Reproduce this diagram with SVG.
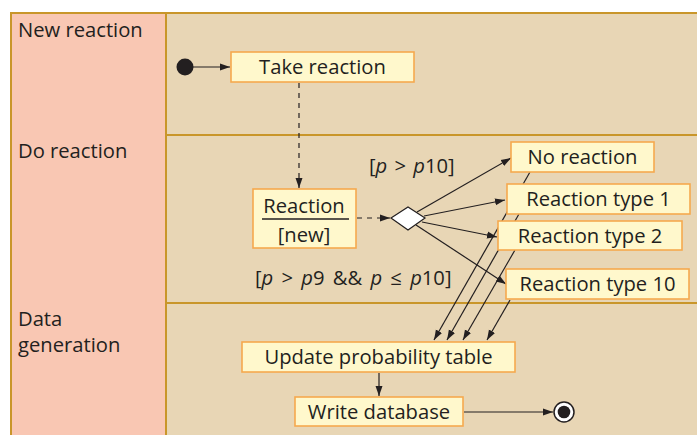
<svg xmlns="http://www.w3.org/2000/svg" width="697" height="435" viewBox="0 0 697 435">
<defs>
<style>
.lanehead{fill:#F9C7B3;}
.lanebody{fill:#E8D6B5;}
.frame{stroke:#C9962A;stroke-width:2;fill:none;}
.box{fill:#FFF8CC;stroke:#F6A94E;stroke-width:1.6;}
.t{font-family:"Open Sans","Noto Sans",sans-serif;font-size:20.2px;fill:#231F20;}
.lbl{font-family:"Open Sans","Noto Sans",sans-serif;font-size:20.2px;fill:#231F20;}
.c{stroke:#231F20;stroke-width:1.2;fill:none;}
.d{stroke:#231F20;stroke-width:1.2;fill:none;stroke-dasharray:5,5;}
</style>
<marker id="ah" viewBox="0 0 10 10" refX="10" refY="5" markerWidth="10" markerHeight="10" markerUnits="userSpaceOnUse" orient="auto">
<path d="M0,1.5 L10,5 L0,8.5 z" fill="#231F20"/>
</marker>
</defs>

<g id="lanes">
<rect class="lanehead" x="11" y="13" width="155" height="422"/>
<rect class="lanebody" x="166" y="13" width="531" height="422"/>
<path class="frame" d="M11,435 V13 H697 M166,13 V435 M166,135 H697 M166,303 H697"/>
<text class="lbl" x="18" y="37">New reaction</text>
<text class="lbl" x="18" y="158">Do reaction</text>
<text class="lbl" x="18" y="326">Data</text>
<text class="lbl" x="18" y="352">generation</text>
</g>

<g id="connectors">
<line class="c" x1="193" y1="67" x2="230" y2="67" marker-end="url(#ah)"/>
<line class="d" x1="299" y1="83" x2="299" y2="188" marker-end="url(#ah)"/>
<line class="d" x1="357" y1="218" x2="390" y2="218" marker-end="url(#ah)"/>
<line class="c" x1="417" y1="212" x2="511" y2="158" marker-end="url(#ah)"/>
<line class="c" x1="424" y1="216" x2="505" y2="200" marker-end="url(#ah)"/>
<line class="c" x1="422" y1="222" x2="497" y2="237" marker-end="url(#ah)"/>
<line class="c" x1="416" y1="225" x2="506" y2="284" marker-end="url(#ah)"/>
<line class="c" x1="530" y1="172" x2="434" y2="340" marker-end="url(#ah)"/>
<line class="c" x1="519" y1="214" x2="447" y2="340" marker-end="url(#ah)"/>
<line class="c" x1="515" y1="250" x2="463" y2="340" marker-end="url(#ah)"/>
<line class="c" x1="510" y1="300" x2="487" y2="340" marker-end="url(#ah)"/>
<line class="c" x1="379" y1="373" x2="379" y2="396" marker-end="url(#ah)"/>
<line class="c" x1="464" y1="412" x2="553" y2="412" marker-end="url(#ah)"/>
<text class="t" x="369" y="173" word-spacing="2">[<tspan font-style="italic">p</tspan> &gt; <tspan font-style="italic">p</tspan>10]</text>
<text class="t" x="255" y="285" word-spacing="3">[<tspan font-style="italic">p</tspan> &gt; <tspan font-style="italic">p</tspan>9 &amp;&amp; <tspan font-style="italic">p</tspan> ≤ <tspan font-style="italic">p</tspan>10]</text>
</g>

<g id="start">
<circle cx="185" cy="67" r="8.5" fill="#231F20"/>
</g>

<g id="take-reaction">
<rect class="box" x="231" y="52" width="183" height="30"/>
<text class="t" x="322.5" y="74" text-anchor="middle">Take reaction</text>
</g>

<g id="reaction-new">
<rect class="box" x="253" y="189" width="103" height="59"/>
<text class="t" x="304" y="213" text-anchor="middle">Reaction</text>
<line x1="262" y1="219" x2="349" y2="219" stroke="#231F20" stroke-width="1.3"/>
<text class="t" x="304" y="242" text-anchor="middle">[new]</text>
</g>

<g id="decision">
<polygon points="391,218 408,207 425,218 408,230" fill="#FFFFFF" stroke="#231F20" stroke-width="1.2"/>
</g>

<g id="no-reaction">
<rect class="box" x="511" y="142" width="143" height="30"/>
<text class="t" x="582.5" y="164" text-anchor="middle">No reaction</text>
</g>

<g id="reaction-type-1">
<rect class="box" x="507" y="184" width="183" height="30"/>
<text class="t" x="598.5" y="206" text-anchor="middle">Reaction type 1</text>
</g>

<g id="reaction-type-2">
<rect class="box" x="498" y="221" width="184" height="29"/>
<text class="t" x="590" y="243" text-anchor="middle">Reaction type 2</text>
</g>

<g id="reaction-type-10">
<rect class="box" x="506" y="269" width="183" height="30"/>
<text class="t" x="597.5" y="291" text-anchor="middle">Reaction type 10</text>
</g>

<g id="update-probability-table">
<rect class="box" x="242" y="342" width="273" height="30"/>
<text class="t" x="378.5" y="364" text-anchor="middle">Update probability table</text>
</g>

<g id="write-database">
<rect class="box" x="295" y="397" width="168" height="29"/>
<text class="t" x="379" y="419" text-anchor="middle">Write database</text>
</g>

<g id="end">
<circle cx="564" cy="412" r="10" fill="#FFFFFF" stroke="#231F20" stroke-width="1.5"/>
<circle cx="564" cy="412" r="6.3" fill="#231F20"/>
</g>
</svg>
